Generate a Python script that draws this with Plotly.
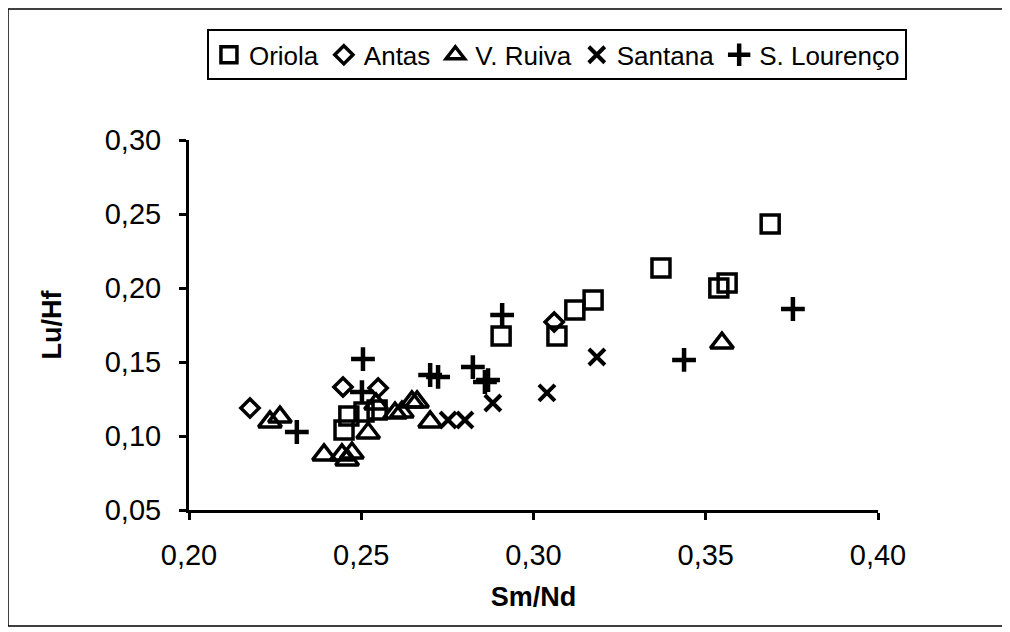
import plotly.graph_objects as go

# Oriola
oriola_x = [0.2450, 0.2464, 0.2508, 0.2546, 0.2906, 0.3068, 0.3120, 0.3173, 0.3370, 0.3538, 0.3562, 0.3687]
oriola_y = [0.1041, 0.1135, 0.1162, 0.1176, 0.1676, 0.1676, 0.1851, 0.1919, 0.2135, 0.2000, 0.2034, 0.2432]
# Antas
antas_x = [0.2177, 0.2447, 0.2549, 0.3060]
antas_y = [0.1189, 0.1331, 0.1324, 0.1770]
# V. Ruiva
ruiva_x = [0.2235, 0.2264, 0.2392, 0.2444, 0.2459, 0.2473, 0.2520, 0.2543, 0.2598, 0.2618, 0.2647, 0.2662, 0.2700, 0.3547]
ruiva_y = [0.1095, 0.1128, 0.0872, 0.0872, 0.0838, 0.0885, 0.1020, 0.1216, 0.1155, 0.1162, 0.1230, 0.1230, 0.1095, 0.1628]
# Santana
santana_x = [0.2752, 0.2801, 0.2882, 0.3039, 0.3184]
santana_y = [0.1108, 0.1108, 0.1223, 0.1291, 0.1534]
# S. Lourenço
lourenco_x = [0.2313, 0.2505, 0.2502, 0.2700, 0.2723, 0.2824, 0.2859, 0.2868, 0.2909, 0.3437, 0.3753]
lourenco_y = [0.1027, 0.1520, 0.1297, 0.1412, 0.1399, 0.1466, 0.1365, 0.1378, 0.1818, 0.1514, 0.1858]

x_ticks = [0.20, 0.25, 0.30, 0.35, 0.40]
y_ticks = [0.05, 0.10, 0.15, 0.20, 0.25, 0.30]

FONT = "Liberation Sans, Arial, sans-serif"

fig = go.Figure()
series = [
    ("Oriola", oriola_x, oriola_y, "square-open", 18, 3.5),
    ("Antas", antas_x, antas_y, "diamond-open", 14, 3.5),
    ("V. Ruiva", ruiva_x, ruiva_y, "triangle-up-open", 20, 3.5),
    ("Santana", santana_x, santana_y, "x-thin-open", 16, 4),
    ("S. Lourenço", lourenco_x, lourenco_y, "cross-thin-open", 17, 4.5),
]
for name, xs, ys, sym, size, lw in series:
    fig.add_trace(go.Scatter(
        x=xs, y=ys, mode="markers", name=name,
        marker=dict(symbol=sym, size=size, color="black",
                    line=dict(color="black", width=lw)),
    ))

axis_common = dict(
    showgrid=False, zeroline=False, showline=True, linecolor="black", linewidth=3,
    ticks="outside", tickcolor="black", tickwidth=3, ticklen=7,
    tickformat=".2f", tickfont=dict(family=FONT, size=29, color="black"),
    mirror=False,
)

fig.update_layout(
    width=1010, height=632,
    margin=dict(l=181, r=140, t=132, b=130, autoexpand=False),
    paper_bgcolor="white", plot_bgcolor="white",
    separators=",.",
    font=dict(family=FONT, color="black"),
    xaxis=dict(range=[0.20, 0.40], tickvals=x_ticks, ticklabelstandoff=10,
               title=dict(text="<b>Sm/Nd</b>", font=dict(family=FONT, size=27), standoff=18),
               **axis_common),
    yaxis=dict(range=[0.05, 0.30], tickvals=y_ticks, ticklabelstandoff=12,
               title=dict(text="<b>Lu/Hf</b>", font=dict(family=FONT, size=27), standoff=36),
               **axis_common),
    legend=dict(orientation="h", x=1.042, xanchor="right", y=1.299, yanchor="top",
                bordercolor="black", borderwidth=2, bgcolor="white",
                font=dict(family=FONT, size=26, color="black"),
                itemwidth=30, tracegroupgap=0),
    shapes=[dict(type="rect", xref="paper", yref="paper",
                 x0=-0.2627, x1=1.1814, y0=-0.3135, y1=1.354,
                 line=dict(color="black", width=1.5))],
)

fig.write_html("out.html")
